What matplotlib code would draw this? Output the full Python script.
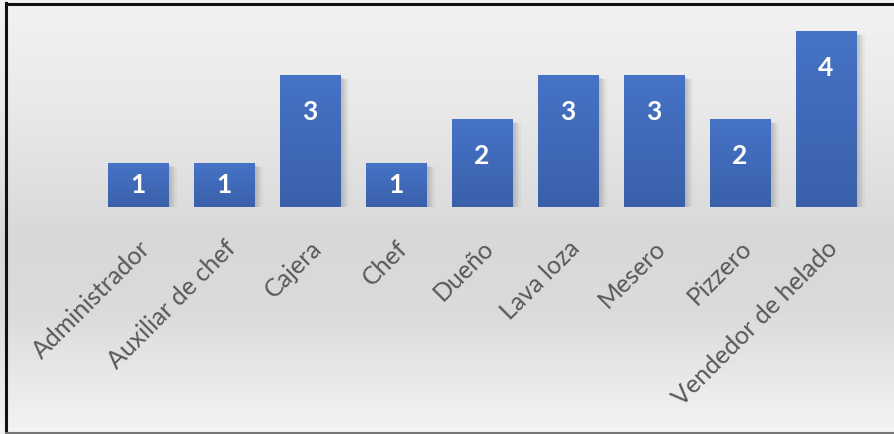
import numpy as np
import matplotlib.pyplot as plt
from matplotlib.colors import LinearSegmentedColormap
from matplotlib.patches import Rectangle

puestos = ['Administrador', 'Auxiliar de chef', 'Cajera', 'Chef', 'Dueño',
           'Lava loza', 'Mesero', 'Pizzero', 'Vendedor de helado']
cantidad = [1, 1, 3, 1, 2, 3, 3, 2, 4]

W, H, DPI = 895, 434, 100
fig = plt.figure(figsize=(W / DPI, H / DPI), dpi=DPI)

# gray background, light at top and bottom, darker in the middle band
bg = fig.add_axes([0, 0, 1, 1])
bg_cmap = LinearSegmentedColormap.from_list('bg', [
    (0.0, '#f2f2f2'), (0.25, '#e9e9e9'), (0.55, '#d8d8d8'),
    (0.72, '#dbdbdb'), (1.0, '#f4f4f4')])
grad = np.linspace(0, 1, 256).reshape(-1, 1)
bg.imshow(grad, cmap=bg_cmap, aspect='auto', extent=[0, 1, 0, 1], origin='upper')
bg.set_xlim(0, 1)
bg.set_ylim(0, 1)
bg.axis('off')
# frame: dark on the left/top, gray at the bottom
bg.plot([6 / W, 6 / W], [0, 1 - 3 / H], color='#111111', lw=2.2)
bg.plot([6 / W, 1], [1 - 4 / H, 1 - 4 / H], color='#111111', lw=2.2)
bg.plot([6 / W, 1], [1.5 / H, 1.5 / H], color='#777777', lw=1.5)

# plot area: bar centres every 86 px, baseline at y=207 px, 44 px per unit
left, right = 95, 869
base, top = 207, 207 - 4.5 * 44
ax = fig.add_axes([left / W, 1 - base / H, (right - left) / W, (base - top) / H])
ax.patch.set_alpha(0)
ax.set_xlim(-0.5, len(puestos) - 0.5)
ax.set_ylim(0, 4.5)
for s in ax.spines.values():
    s.set_visible(False)
ax.set_yticks([])

x = np.arange(len(puestos))
bw = 0.70

# soft shadow to the lower right of each bar
for i, v in zip(x, cantidad):
    for k in range(7):
        off = 0.02 + k * 0.013
        ax.add_patch(Rectangle((i - bw / 2 + off, -0.04 - k * 0.01), bw, v,
                               color='#707070', alpha=0.06, lw=0, zorder=1))

bar_cmap = LinearSegmentedColormap.from_list('bar', ['#4673c6', '#3a60aa'])
bars = ax.bar(x, cantidad, width=bw, color='none', zorder=2)
for b, v in zip(bars, cantidad):
    x0 = b.get_x()
    img = ax.imshow(np.linspace(0, 1, 100).reshape(-1, 1), cmap=bar_cmap,
                    aspect='auto', extent=[x0, x0 + bw, 0, v],
                    origin='upper', zorder=3)
    img.set_clip_path(b)
ax.set_xlim(-0.5, len(puestos) - 0.5)
ax.set_ylim(0, 4.5)

for i, v in zip(x, cantidad):
    ax.text(i, max(v - 0.84, v / 2), str(v), ha='center', va='center',
            color='white', fontsize=19, fontweight='bold', family='Lato', zorder=4)

ax.set_xticks(x)
ax.set_xticklabels(puestos, rotation=45, ha='right', va='top',
                   rotation_mode='anchor', color='#595959', fontsize=18,
                   family='Lato')
ax.tick_params(axis='x', length=0, pad=21)

fig.savefig('out.png', dpi=DPI)
